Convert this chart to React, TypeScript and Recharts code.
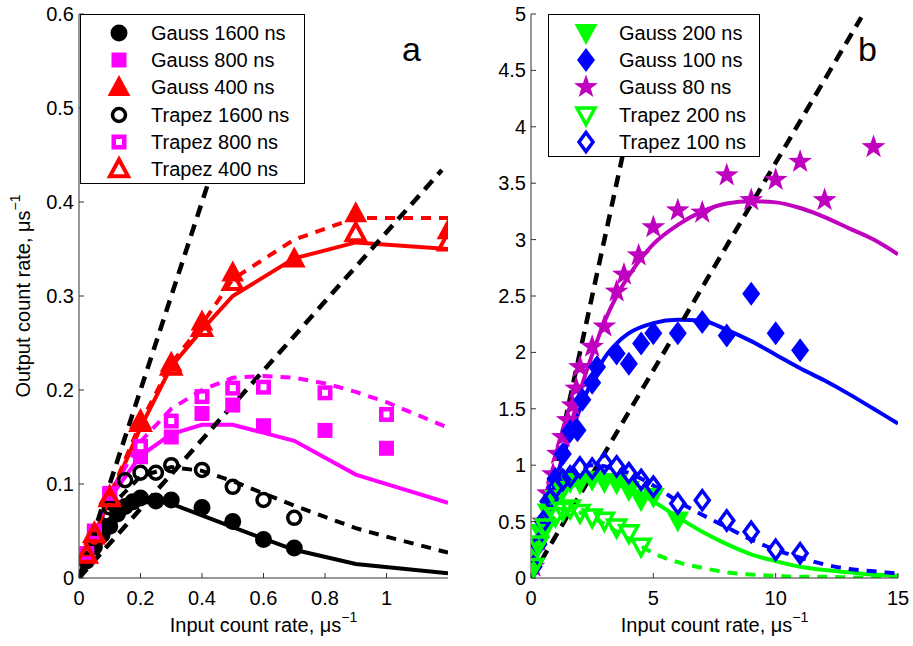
import React from "react";
import { ComposedChart, XAxis, YAxis, Scatter, Line, Legend } from "recharts";

const FONT = "'Liberation Sans', Arial, Helvetica, sans-serif";
const AXIS = "#333";

// ---------- panel a : measured points ----------
const g1600X = [0.025, 0.05, 0.075, 0.1, 0.125, 0.15, 0.175, 0.2, 0.25, 0.3, 0.4, 0.5, 0.6, 0.7];
const g1600Y = [0.018, 0.033, 0.046, 0.055, 0.068, 0.076, 0.081, 0.085, 0.082, 0.083, 0.075, 0.06, 0.041, 0.032];
const t1600X = [0.025, 0.05, 0.1, 0.15, 0.2, 0.25, 0.3, 0.4, 0.5, 0.6, 0.7];
const t1600Y = [0.02, 0.04, 0.075, 0.104, 0.112, 0.112, 0.12, 0.115, 0.097, 0.083, 0.064];
const g800X = [0.025, 0.05, 0.1, 0.2, 0.3, 0.4, 0.5, 0.6, 0.8, 1.0];
const g800Y = [0.022, 0.05, 0.088, 0.129, 0.15, 0.175, 0.184, 0.162, 0.157, 0.138];
const t800X = [0.025, 0.05, 0.1, 0.2, 0.3, 0.4, 0.5, 0.6, 0.8, 1.0];
const t800Y = [0.026, 0.048, 0.09, 0.14, 0.167, 0.193, 0.202, 0.203, 0.197, 0.174];
const g400X = [0.025, 0.05, 0.1, 0.2, 0.3, 0.4, 0.5, 0.7, 0.9, 1.2];
const g400Y = [0.025, 0.045, 0.088, 0.168, 0.229, 0.273, 0.325, 0.34, 0.388, 0.37];
const t400X = [0.025, 0.05, 0.1, 0.2, 0.3, 0.4, 0.5, 0.9, 1.2];
const t400Y = [0.025, 0.047, 0.085, 0.165, 0.225, 0.266, 0.315, 0.367, 0.357];

// ---------- panel a : model curves ----------
const g1600LineX = [0.02, 0.05, 0.1, 0.15, 0.2, 0.25, 0.3, 0.5, 0.7, 0.9, 1.2];
const g1600LineY = [0.018, 0.04, 0.063, 0.075, 0.081, 0.082, 0.079, 0.054, 0.03, 0.015, 0.005];
const t1600LineX = [0.02, 0.1, 0.2, 0.3, 0.4, 0.5, 0.6, 0.7, 0.8, 0.9, 1.0, 1.2];
const t1600LineY = [0.02, 0.075, 0.108, 0.118, 0.114, 0.103, 0.09, 0.077, 0.065, 0.053, 0.044, 0.027];
const g800LineX = [0.02, 0.1, 0.2, 0.3, 0.4, 0.5, 0.7, 0.9, 1.2];
const g800LineY = [0.022, 0.085, 0.13, 0.153, 0.163, 0.163, 0.146, 0.11, 0.08];
const t800LineX = [0.02, 0.1, 0.2, 0.3, 0.4, 0.5, 0.6, 0.7, 0.8, 0.9, 1.0, 1.2];
const t800LineY = [0.025, 0.09, 0.145, 0.18, 0.2, 0.213, 0.215, 0.213, 0.207, 0.198, 0.187, 0.16];
const g400LineX = [0.02, 0.1, 0.2, 0.3, 0.4, 0.5, 0.7, 0.9, 1.2];
const g400LineY = [0.02, 0.085, 0.16, 0.225, 0.264, 0.3, 0.34, 0.357, 0.35];
const t400LineX = [0.02, 0.1, 0.2, 0.3, 0.4, 0.5, 0.7, 0.9, 1.2];
const t400LineY = [0.02, 0.087, 0.165, 0.228, 0.27, 0.318, 0.36, 0.383, 0.383];

// dashed limits (same in both panels): y = x and y = x/e
const idealAX = [0, 0.6];
const idealAY = [0, 0.6];
const paraAX = [0, 1.18];
const paraAY = [0, 0.434];

const aXTicks = [0, 0.2, 0.4, 0.6, 0.8, 1];
const aYTicks = [0, 0.1, 0.2, 0.3, 0.4, 0.5, 0.6];

// ---------- panel b : measured points ----------
const g200X = [0.1, 0.2, 0.4, 0.7, 1.0, 1.3, 1.6, 2.0, 2.5, 3.0, 3.5, 4.0, 4.5, 5.0, 6.0];
const g200Y = [0.1, 0.25, 0.4, 0.58, 0.7, 0.78, 0.85, 0.84, 0.87, 0.85, 0.84, 0.78, 0.69, 0.72, 0.51];
const g100X = [0.1, 0.3, 0.5, 0.7, 1.0, 1.3, 1.6, 1.9, 2.1, 2.5, 2.7, 3.5, 4.0, 4.5, 5.0, 6.0, 7.0, 8.0, 9.0, 10.0, 11.0];
const g100Y = [0.1, 0.3, 0.5, 0.68, 0.88, 1.1, 1.3, 1.31, 1.58, 1.73, 1.87, 1.99, 1.9, 2.08, 2.17, 2.17, 2.27, 2.15, 2.52, 2.17, 2.02];
const g80X = [0.1, 0.3, 0.5, 0.7, 0.9, 1.1, 1.3, 1.5, 1.7, 1.85, 2.0, 2.5, 3.0, 3.5, 3.8, 4.4, 5.0, 6.0, 7.0, 8.0, 9.0, 10.0, 11.0, 12.0, 14.0];
const g80Y = [0.1, 0.33, 0.5, 0.75, 0.92, 1.1, 1.25, 1.4, 1.53, 1.68, 1.87, 2.05, 2.23, 2.54, 2.69, 2.86, 3.11, 3.26, 3.24, 3.57, 3.35, 3.53, 3.69, 3.35, 3.82];
const t200X = [0.1, 0.3, 0.6, 1.0, 1.3, 1.6, 2.0, 2.5, 3.0, 3.5, 4.0, 4.5];
const t200Y = [0.1, 0.3, 0.45, 0.55, 0.6, 0.62, 0.58, 0.54, 0.51, 0.45, 0.4, 0.28];
const t100X = [0.1, 0.3, 0.5, 0.8, 1.0, 1.3, 1.6, 2.0, 2.5, 3.0, 3.5, 4.0, 4.5, 5.0, 6.0, 7.0, 8.0, 9.0, 10.0, 11.0];
const t100Y = [0.1, 0.3, 0.5, 0.7, 0.8, 0.87, 0.9, 0.98, 0.97, 1.02, 0.99, 0.93, 0.87, 0.81, 0.66, 0.69, 0.51, 0.41, 0.25, 0.22];

// ---------- panel b : model curves ----------
const bLineX = [0, 0.5, 1, 1.5, 2, 2.5, 3, 3.5, 4, 5, 6, 7, 8, 9, 10, 11, 12, 13, 14, 15];
const g80LineY = [0.05, 0.45, 0.85, 1.25, 1.65, 1.98, 2.27, 2.5, 2.68, 2.96, 3.13, 3.25, 3.32, 3.34, 3.33, 3.28, 3.2, 3.1, 3.0, 2.87];
const g100LineY = [0.05, 0.45, 0.85, 1.2, 1.5, 1.75, 1.95, 2.08, 2.17, 2.26, 2.29, 2.28, 2.2, 2.1, 1.98, 1.86, 1.75, 1.63, 1.5, 1.37];
const g200LineY = [0.02, 0.42, 0.66, 0.79, 0.84, 0.87, 0.87, 0.85, 0.81, 0.68, 0.54, 0.41, 0.3, 0.21, 0.15, 0.1, 0.07, 0.05, 0.03, 0.02];
const t100LineY = [0.03, 0.45, 0.78, 0.92, 0.98, 1.0, 0.99, 0.96, 0.93, 0.82, 0.68, 0.56, 0.45, 0.34, 0.25, 0.18, 0.12, 0.08, 0.06, 0.04];
const t200LineY = [0.02, 0.35, 0.55, 0.6, 0.58, 0.53, 0.48, 0.41, 0.35, 0.22, 0.14, 0.09, 0.05, 0.03, 0.02, 0.01, 0.01, 0.005, 0, 0];

const idealBX = [0, 5];
const idealBY = [0, 5];
const paraBX = [0, 13.5];
const paraBY = [0, 4.97];

const bXTicks = [0, 5, 10, 15];
const bYTicks = [0, 0.5, 1, 1.5, 2, 2.5, 3, 3.5, 4, 4.5, 5];

const zip = (xs: number[], ys: number[]) => xs.map((x, i) => ({ x, y: ys[i] }));

function triPts(cx: number, cy: number, r: number, dir: number) {
  return `${cx},${cy - dir * r} ${cx + r * 0.95},${cy + dir * r * 0.75} ${cx - r * 0.95},${cy + dir * r * 0.75}`;
}

function starPts(cx: number, cy: number, R: number, r: number) {
  const pts: string[] = [];
  for (let i = 0; i < 10; i++) {
    const a = -Math.PI / 2 + (i * Math.PI) / 5;
    const rad = i % 2 === 0 ? R : r;
    pts.push(`${cx + rad * Math.cos(a)},${cy + rad * Math.sin(a)}`);
  }
  return pts.join(" ");
}

function drawMarker(kind: string, color: string, cx: number, cy: number) {
  switch (kind) {
    case "circle":
      return <circle cx={cx} cy={cy} r={8.5} fill={color} />;
    case "ocircle":
      return <circle cx={cx} cy={cy} r={6.5} fill="none" stroke={color} strokeWidth={3.5} />;
    case "square":
      return <rect x={cx - 7.5} y={cy - 7.5} width={15} height={15} fill={color} />;
    case "osquare":
      return <rect x={cx - 5.25} y={cy - 5.25} width={10.5} height={10.5} fill="none" stroke={color} strokeWidth={4.5} />;
    case "tri":
      return <polygon points={triPts(cx, cy, 12, 1)} fill={color} />;
    case "otri":
      return <polygon points={triPts(cx, cy, 9.5, 1)} fill="none" stroke={color} strokeWidth={4} />;
    case "dtri":
      return <polygon points={triPts(cx, cy, 12, -1)} fill={color} />;
    case "odtri":
      return <polygon points={triPts(cx, cy, 9.5, -1)} fill="none" stroke={color} strokeWidth={3.5} />;
    case "diamond":
      return <polygon points={`${cx},${cy - 12} ${cx + 9},${cy} ${cx},${cy + 12} ${cx - 9},${cy}`} fill={color} />;
    case "odiamond":
      return (
        <polygon
          points={`${cx},${cy - 9.5} ${cx + 7},${cy} ${cx},${cy + 9.5} ${cx - 7},${cy}`}
          fill="none"
          stroke={color}
          strokeWidth={3.5}
        />
      );
    case "star":
      return <polygon points={starPts(cx, cy, 12.5, 5)} fill={color} />;
    default:
      return null;
  }
}

const shape = (kind: string, color: string) => (p: any) => <g>{drawMarker(kind, color, p.cx, p.cy)}</g>;

interface LegendItem {
  label: string;
  kind: string;
  color: string;
}

const legendA: LegendItem[] = [
  { label: "Gauss 1600 ns", kind: "circle", color: "#000000" },
  { label: "Gauss 800 ns", kind: "square", color: "#FF00FF" },
  { label: "Gauss 400 ns", kind: "tri", color: "#FF0000" },
  { label: "Trapez 1600 ns", kind: "ocircle", color: "#000000" },
  { label: "Trapez 800 ns", kind: "osquare", color: "#FF00FF" },
  { label: "Trapez 400 ns", kind: "otri", color: "#FF0000" },
];

const legendB: LegendItem[] = [
  { label: "Gauss 200 ns", kind: "dtri", color: "#00FF00" },
  { label: "Gauss 100 ns", kind: "diamond", color: "#0000FF" },
  { label: "Gauss 80 ns", kind: "star", color: "#BF00BF" },
  { label: "Trapez 200 ns", kind: "odtri", color: "#00FF00" },
  { label: "Trapez 100 ns", kind: "odiamond", color: "#0000FF" },
];

function LegendBox({
  items,
  width,
  height,
  markerX,
  textX,
}: {
  items: LegendItem[];
  width: number;
  height: number;
  markerX: number;
  textX: number;
}) {
  return (
    <div
      style={{
        position: "relative",
        width,
        height,
        boxSizing: "border-box",
        border: "1px solid #000",
        background: "#fff",
        fontFamily: FONT,
        fontSize: 20,
        color: "#000",
      }}
    >
      {items.map((it, i) => (
        <div key={it.label} style={{ position: "absolute", left: 0, top: 3 + i * 27.2, height: 30, width: "100%" }}>
          <svg width={textX} height={30} style={{ position: "absolute", left: 0, top: 0, overflow: "visible" }}>
            {drawMarker(it.kind, it.color, markerX, 15)}
          </svg>
          <span style={{ position: "absolute", left: textX, top: 0, lineHeight: "30px", whiteSpace: "nowrap" }}>
            {it.label}
          </span>
        </div>
      ))}
    </div>
  );
}

const fmt = (v: number) => String(v);

function BottomTick(props: any) {
  const { x, y, payload } = props;
  return (
    <g>
      <line x1={x} x2={x} y1={y} y2={y - 5} stroke={AXIS} />
      <text x={x} y={y + 27} textAnchor="middle" fontSize={20} fontFamily={FONT} fill="#000">
        {fmt(payload.value)}
      </text>
    </g>
  );
}

function LeftTick(props: any) {
  const { x, y, payload } = props;
  return (
    <g>
      <line x1={x} x2={x + 5} y1={y} y2={y} stroke={AXIS} />
      <text x={x - 5} y={y + 7} textAnchor="end" fontSize={20} fontFamily={FONT} fill="#000">
        {fmt(payload.value)}
      </text>
    </g>
  );
}

function XTitle(props: any) {
  const vb = props.viewBox;
  return (
    <text x={vb.x + vb.width / 2} y={vb.y + 54} textAnchor="middle" fontSize={20} fontFamily={FONT} fill="#000">
      Input count rate, μs
      <tspan dy={-10} fontSize={14}>
        −1
      </tspan>
    </text>
  );
}

function YTitle(props: any) {
  const vb = props.viewBox;
  const cx = vb.x + 11;
  const cy = vb.y + vb.height / 2;
  return (
    <text
      x={cx}
      y={cy}
      transform={`rotate(-90, ${cx}, ${cy})`}
      textAnchor="middle"
      fontSize={20}
      fontFamily={FONT}
      fill="#000"
    >
      Output count rate, μs
      <tspan dy={-10} fontSize={14}>
        −1
      </tspan>
    </text>
  );
}

const panelLetter = (left: number, text: string) => (
  <div
    style={{
      position: "absolute",
      left,
      top: 32,
      fontFamily: FONT,
      fontSize: 34,
      lineHeight: "34px",
      color: "#000",
    }}
  >
    {text}
  </div>
);

const lineProps = { type: "linear" as const, dot: false, activeDot: false, isAnimationActive: false, dataKey: "y" };

export default function App() {
  return (
    <div style={{ position: "absolute", left: 0, top: 0, width: 913, height: 646, background: "#fff" }}>
      <div style={{ position: "absolute", left: 0, top: 0 }}>
        <ComposedChart width={460} height={646} margin={{ top: 14, right: 12, bottom: 38, left: 19 }}>
          <XAxis
            type="number"
            dataKey="x"
            domain={[0, 1.2]}
            ticks={aXTicks}
            allowDataOverflow
            stroke={AXIS}
            tickLine={false}
            tickSize={0}
            tickMargin={0}
            tick={BottomTick}
            label={{ content: XTitle }}
          />
          <YAxis
            type="number"
            dataKey="y"
            domain={[0, 0.6]}
            ticks={aYTicks}
            allowDataOverflow
            stroke={AXIS}
            tickLine={false}
            tickSize={0}
            tickMargin={0}
            tick={LeftTick}
            label={{ content: YTitle }}
          />
          <Scatter data={zip(g1600X, g1600Y)} shape={shape("circle", "#000000")} isAnimationActive={false} />
          <Scatter data={zip(g800X, g800Y)} shape={shape("square", "#FF00FF")} isAnimationActive={false} />
          <Scatter data={zip(g400X, g400Y)} shape={shape("tri", "#FF0000")} isAnimationActive={false} />
          <Scatter data={zip(t1600X, t1600Y)} shape={shape("ocircle", "#000000")} isAnimationActive={false} />
          <Scatter data={zip(t800X, t800Y)} shape={shape("osquare", "#FF00FF")} isAnimationActive={false} />
          <Scatter data={zip(t400X, t400Y)} shape={shape("otri", "#FF0000")} isAnimationActive={false} />
          <Line {...lineProps} data={zip(g1600LineX, g1600LineY)} stroke="#000000" strokeWidth={4} />
          <Line {...lineProps} data={zip(g800LineX, g800LineY)} stroke="#FF00FF" strokeWidth={4} />
          <Line {...lineProps} data={zip(g400LineX, g400LineY)} stroke="#FF0000" strokeWidth={4} />
          <Line {...lineProps} data={zip(t1600LineX, t1600LineY)} stroke="#000000" strokeWidth={4} strokeDasharray="10 8" />
          <Line {...lineProps} data={zip(t800LineX, t800LineY)} stroke="#FF00FF" strokeWidth={4} strokeDasharray="10 8" />
          <Line {...lineProps} data={zip(t400LineX, t400LineY)} stroke="#FF0000" strokeWidth={4} strokeDasharray="10 8" />
          <Line {...lineProps} data={zip(idealAX, idealAY)} stroke="#000000" strokeWidth={4.5} strokeDasharray="12 8" />
          <Line {...lineProps} data={zip(paraAX, paraAY)} stroke="#000000" strokeWidth={4.5} strokeDasharray="12 8" />
          <Legend
            layout="vertical"
            align="center"
            verticalAlign="middle"
            wrapperStyle={{ left: 80, top: 14, width: 225, height: 170 }}
            content={() => <LegendBox items={legendA} width={225} height={170} markerX={38} textX={70} />}
          />
        </ComposedChart>
        {panelLetter(402, "a")}
      </div>
      <div style={{ position: "absolute", left: 460, top: 0 }}>
        <ComposedChart width={453} height={646} margin={{ top: 14, right: 15, bottom: 38, left: 11 }}>
          <XAxis
            type="number"
            dataKey="x"
            domain={[0, 15]}
            ticks={bXTicks}
            allowDataOverflow
            stroke={AXIS}
            tickLine={false}
            tickSize={0}
            tickMargin={0}
            tick={BottomTick}
            label={{ content: XTitle }}
          />
          <YAxis
            type="number"
            dataKey="y"
            domain={[0, 5]}
            ticks={bYTicks}
            allowDataOverflow
            stroke={AXIS}
            tickLine={false}
            tickSize={0}
            tickMargin={0}
            tick={LeftTick}
          />
          <Scatter data={zip(g80X, g80Y)} shape={shape("star", "#BF00BF")} isAnimationActive={false} />
          <Scatter data={zip(g100X, g100Y)} shape={shape("diamond", "#0000FF")} isAnimationActive={false} />
          <Scatter data={zip(g200X, g200Y)} shape={shape("dtri", "#00FF00")} isAnimationActive={false} />
          <Scatter data={zip(t100X, t100Y)} shape={shape("odiamond", "#0000FF")} isAnimationActive={false} />
          <Scatter data={zip(t200X, t200Y)} shape={shape("odtri", "#00FF00")} isAnimationActive={false} />
          <Line {...lineProps} type="monotone" data={zip(bLineX, g80LineY)} stroke="#BF00BF" strokeWidth={4} />
          <Line {...lineProps} type="monotone" data={zip(bLineX, g100LineY)} stroke="#0000FF" strokeWidth={4} />
          <Line {...lineProps} type="monotone" data={zip(bLineX, g200LineY)} stroke="#00FF00" strokeWidth={4} />
          <Line {...lineProps} type="monotone" data={zip(bLineX, t100LineY)} stroke="#0000FF" strokeWidth={4} strokeDasharray="10 8" />
          <Line {...lineProps} type="monotone" data={zip(bLineX, t200LineY)} stroke="#00FF00" strokeWidth={4} strokeDasharray="10 8" />
          <Line {...lineProps} data={zip(idealBX, idealBY)} stroke="#000000" strokeWidth={4.5} strokeDasharray="12 8" />
          <Line {...lineProps} data={zip(paraBX, paraBY)} stroke="#000000" strokeWidth={4.5} strokeDasharray="12 8" />
          <Legend
            layout="vertical"
            align="center"
            verticalAlign="middle"
            wrapperStyle={{ left: 88, top: 14, width: 212, height: 143 }}
            content={() => <LegendBox items={legendB} width={212} height={143} markerX={37} textX={70} />}
          />
        </ComposedChart>
        {panelLetter(398, "b")}
      </div>
    </div>
  );
}
